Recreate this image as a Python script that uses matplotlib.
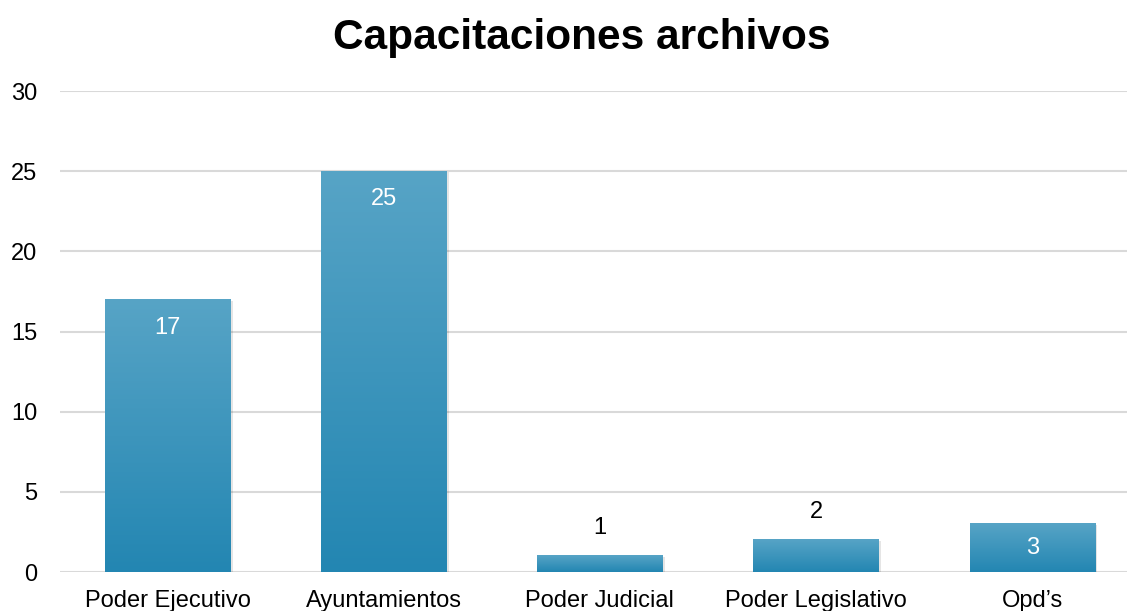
import numpy as np
import matplotlib
matplotlib.use('Agg')
from matplotlib import pyplot as plt
from matplotlib.colors import LinearSegmentedColormap
from matplotlib.patches import Rectangle

plt.rcParams['font.family'] = ['Liberation Sans', 'DejaVu Sans']

# datos
categorias = ['Poder Ejecutivo', 'Ayuntamientos', 'Poder Judicial', 'Poder Legislativo', 'Opd\u2019s']
valores = [17, 25, 1, 2, 3]
y_ticks = [0, 5, 10, 15, 20, 25, 30]

fig = plt.figure(figsize=(11.27, 6.11), dpi=100)
ax = fig.add_axes([0.0528, 0.0638, 0.959, 0.787])

x = np.arange(len(categorias))
bars = ax.bar(x, valores, width=0.58, color='none', zorder=3)

cmap = LinearSegmentedColormap.from_list('azul', ['#2386B2', '#57A4C6'])
grad = np.linspace(0, 1, 256).reshape(-1, 1)
for b, v in zip(bars, valores):
    x0, w, h = b.get_x(), b.get_width(), b.get_height()
    # sombra
    ax.add_patch(Rectangle((x0 + 0.012, -0.12), w, h + 0.05, color='#000000',
                           alpha=0.10, zorder=2, linewidth=0))
    ax.imshow(grad, cmap=cmap, origin='lower', aspect='auto',
              extent=(x0, x0 + w, 0, h), zorder=3)
    if v >= 3:
        ax.text(b.get_x() + w / 2, h - (1.75 if v > 3 else 1.5), str(v), ha='center', va='center',
                color='white', fontsize=17, zorder=4)
    else:
        ax.text(b.get_x() + w / 2, h + 1.75, str(v), ha='center', va='center',
                color='black', fontsize=17, zorder=4)

ax.set_xlim(-0.5, len(categorias) - 0.5)
ax.set_ylim(0, 30)
ax.set_yticks(y_ticks)
ax.set_xticks(x)
ax.set_xticklabels(categorias, fontsize=17)
ax.tick_params(axis='y', labelsize=17, length=0, pad=16)
ax.tick_params(axis='x', length=0, pad=13)
ax.grid(axis='y', color='#D9D9D9', linewidth=1.5, zorder=0)
ax.set_axisbelow(True)
for s in ax.spines.values():
    s.set_visible(False)

fig.suptitle('Capacitaciones archivos', fontsize=30.5, fontweight='bold', x=0.516, y=0.97)

fig.savefig('out.png', dpi=100)
